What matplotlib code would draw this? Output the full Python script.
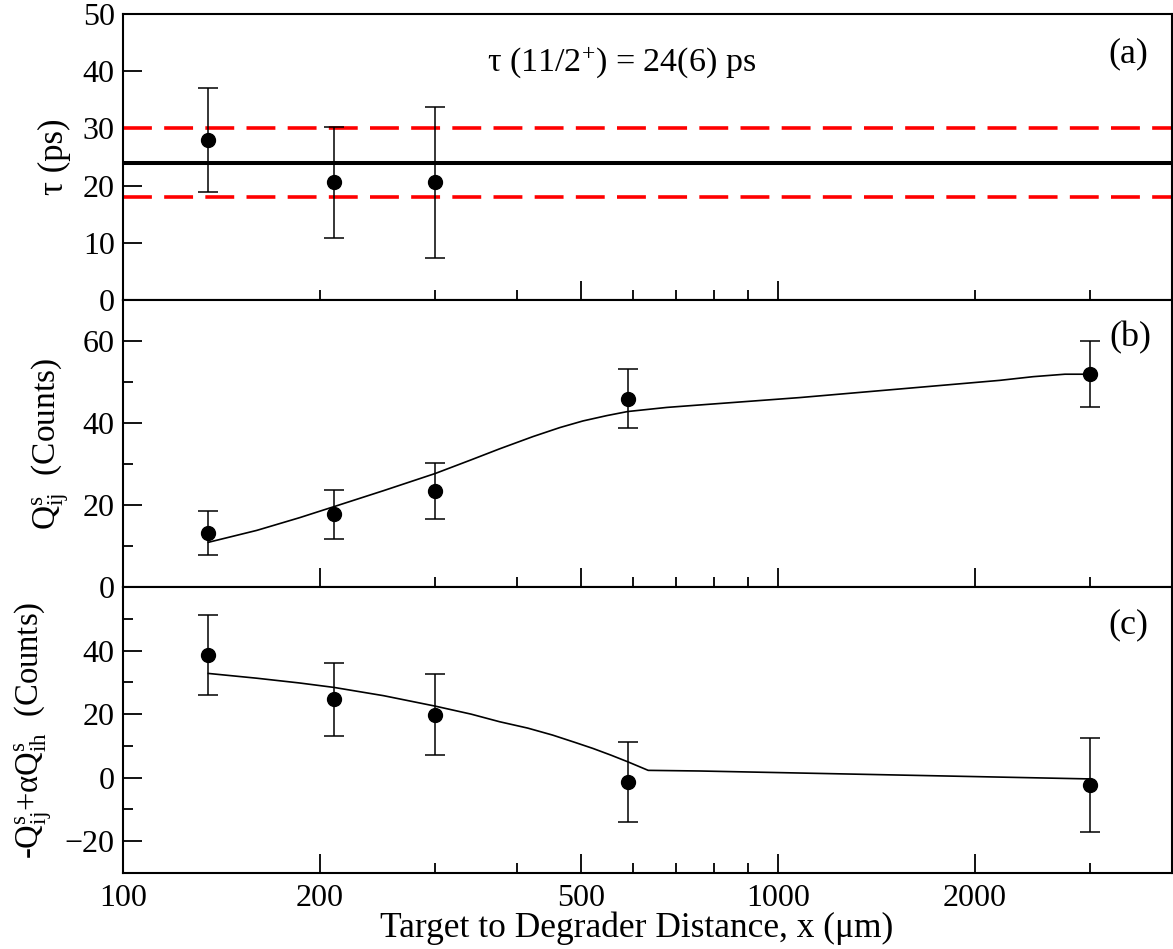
import matplotlib
matplotlib.use("Agg")
import matplotlib.pyplot as plt
from matplotlib.ticker import FixedLocator, NullFormatter, FixedFormatter

plt.rcParams['font.family'] = ['Liberation Serif', 'DejaVu Serif']
plt.rcParams['mathtext.fontset'] = 'custom'
plt.rcParams['mathtext.rm'] = 'Liberation Serif'
plt.rcParams['mathtext.it'] = 'Liberation Serif:italic'
plt.rcParams['mathtext.bf'] = 'Liberation Serif:bold'

# ---------------- data ----------------
x_tau = [135, 210, 300]
tau = [27.9, 20.6, 20.6]
tau_err = [9.1, 9.7, 13.2]
tau_mean = 24.0
tau_lo = 18.0
tau_hi = 30.0

x_q = [135, 210, 300, 590, 3000]
q_ij = [13.1, 17.7, 23.5, 45.9, 51.9]
q_ij_err = [5.4, 5.9, 6.8, 7.2, 8.1]

fit_b_x = [135, 160, 186, 210, 250, 300, 340, 376, 423, 465, 504, 548, 590, 677,
           760, 1080, 1536, 2183, 2455, 2745, 3000]
fit_b_y = [10.9, 13.8, 16.9, 19.6, 23.5, 27.7, 31.0, 33.7, 36.7, 38.9, 40.5, 41.8,
           42.8, 43.8, 44.4, 46.2, 48.3, 50.4, 51.3, 51.9, 51.9]

q_c = [38.5, 24.6, 19.8, -1.3, -2.3]
q_c_err = [12.6, 11.5, 12.7, 12.5, 14.7]

fit_c_x = [135, 160, 186, 210, 250, 300, 340, 376, 415, 453, 490, 522, 556, 590, 634,
           760, 3000]
fit_c_y = [32.8, 31.3, 29.8, 28.4, 25.8, 22.5, 20.0, 17.6, 15.6, 13.4, 11.1, 9.2,
           7.1, 5.0, 2.3, 2.1, -0.4]

x_major = [100, 200, 500, 1000, 2000]
x_minor = [300, 400, 600, 700, 800, 900, 3000]
x_major_top = [100, 500, 1000]
x_minor_top = [200, 300, 400, 600, 700, 800, 900, 2000, 3000]
x_labels = ['100', '200', '500', '1000', '2000']

# ---------------- figure ----------------
W, H = 1173, 949
fig = plt.figure(figsize=(W / 100, H / 100), dpi=100)
left = 123 / W
width = 1049 / W
ax_a = fig.add_axes([left, 1 - 300 / H, width, 286 / H])
ax_b = fig.add_axes([left, 1 - 587 / H, width, 287 / H])
ax_c = fig.add_axes([left, 1 - 873 / H, width, 286 / H])

tick_fs = 23

for ax in (ax_a, ax_b, ax_c):
    ax.set_xscale('log')
    ax.set_xlim(100, 4000)
    for s in ax.spines.values():
        s.set_linewidth(1.5)
    ax.tick_params(which='both', direction='in', top=False, right=False,
                   labelsize=tick_fs, width=1.3)
    ax.tick_params(which='major', length=14)
    ax.tick_params(which='minor', length=7)
    ax.tick_params(axis='y', pad=6)

# x ticks
for ax in (ax_b, ax_c):
    ax.xaxis.set_major_locator(FixedLocator(x_major))
    ax.xaxis.set_minor_locator(FixedLocator(x_minor))
ax_a.xaxis.set_major_locator(FixedLocator(x_major_top))
ax_a.xaxis.set_minor_locator(FixedLocator(x_minor_top))
for ax in (ax_a, ax_b):
    ax.xaxis.set_major_formatter(NullFormatter())
    ax.xaxis.set_minor_formatter(NullFormatter())
ax_c.xaxis.set_major_formatter(FixedFormatter(x_labels))
ax_c.xaxis.set_minor_formatter(NullFormatter())
ax_c.tick_params(axis='x', pad=8)

err_kw = dict(fmt='o', color='black', markersize=10, elinewidth=1.1,
              capsize=7, capthick=1.1, zorder=5)

# ---------------- panel (a) ----------------
ax_a.set_ylim(0, 50)
ax_a.yaxis.set_major_locator(FixedLocator([0, 10, 20, 30, 40, 50]))
ax_a.axhline(tau_mean, color='black', lw=2.9, zorder=3)
ax_a.axhline(tau_hi, color='red', lw=2.6, dashes=(8, 3.4), zorder=2)
ax_a.axhline(tau_lo, color='red', lw=2.6, dashes=(8, 3.4), zorder=2)
ax_a.errorbar(x_tau, tau, yerr=tau_err, **err_kw)
ax_a.set_ylabel('τ (ps)', fontsize=25)
ax_a.yaxis.set_label_coords(-0.05, 0.5)
ax_a.text(0.475, 0.83, 'τ (11/2$^{+}$) = 24(6) ps', transform=ax_a.transAxes,
          ha='center', va='center', fontsize=24.5)
ax_a.text(0.958, 0.862, '(a)', transform=ax_a.transAxes, ha='center', va='center',
          fontsize=26)

# ---------------- panel (b) ----------------
ax_b.set_ylim(0, 70)
ax_b.yaxis.set_major_locator(FixedLocator([0, 20, 40, 60]))
ax_b.yaxis.set_minor_locator(FixedLocator([10, 30, 50]))
ax_b.plot(fit_b_x, fit_b_y, color='black', lw=1.2, zorder=3)
ax_b.errorbar(x_q, q_ij, yerr=q_ij_err, **err_kw)
ax_b.set_ylabel(r'$\mathrm{Q}_{\mathrm{ij}}^{\mathrm{s}}$  (Counts)', fontsize=24)
ax_b.yaxis.set_label_coords(-0.05, 0.5)
ax_b.text(0.96, 0.868, '(b)', transform=ax_b.transAxes, ha='center', va='center',
          fontsize=26)

# ---------------- panel (c) ----------------
ax_c.set_ylim(-30, 60)
ax_c.yaxis.set_major_locator(FixedLocator([-20, 0, 20, 40]))
ax_c.yaxis.set_minor_locator(FixedLocator([-10, 10, 30, 50]))
ax_c.plot(fit_c_x, fit_c_y, color='black', lw=1.2, zorder=3)
ax_c.errorbar(x_q, q_c, yerr=q_c_err, **err_kw)
ax_c.set_ylabel(r'-$\mathrm{Q}_{\mathrm{ij}}^{\mathrm{s}}$+$\mathrm{\alpha Q}_{\mathrm{ih}}^{\mathrm{s}}$  (Counts)',
                fontsize=23.5)
ax_c.yaxis.set_label_coords(-0.066, 0.5)
ax_c.text(0.958, 0.867, '(c)', transform=ax_c.transAxes, ha='center', va='center',
          fontsize=26)
ax_c.set_xlabel('Target to Degrader Distance, x (μm)', fontsize=25.5)
ax_c.xaxis.set_label_coords(0.49, -0.133)

fig.savefig('out.png', dpi=100)
